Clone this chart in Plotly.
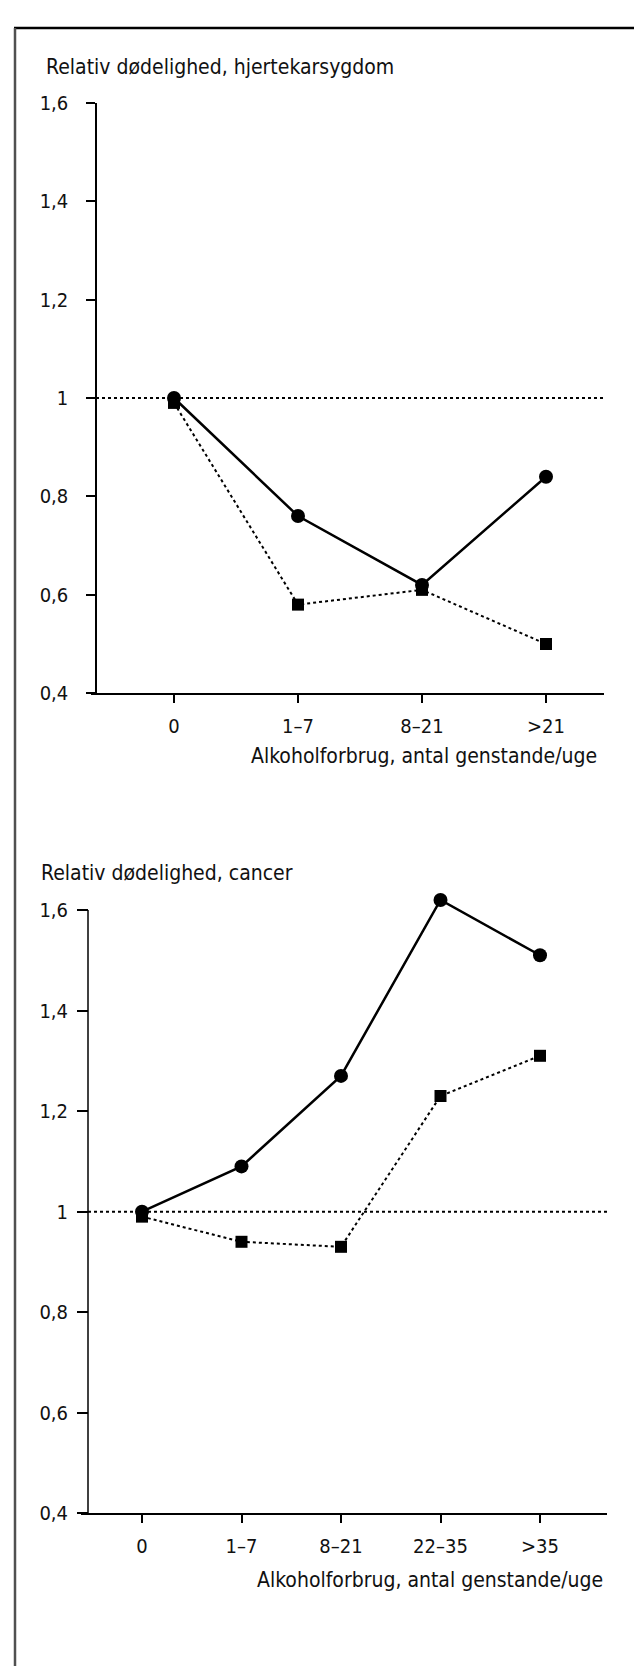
import plotly.graph_objects as go

W, H = 642, 1670

# ---------------- data ----------------
cats_cvd = ["0", "1–7", "8–21", ">21"]
cvd_circle = [1.00, 0.76, 0.62, 0.84]
cvd_square = [0.99, 0.58, 0.61, 0.50]

cats_cancer = ["0", "1–7", "8–21", "22–35", ">35"]
cancer_circle = [1.00, 1.09, 1.27, 1.62, 1.51]
cancer_square = [0.99, 0.94, 0.93, 1.23, 1.31]

y_ticks = [0.4, 0.6, 0.8, 1.0, 1.2, 1.4, 1.6]
y_ticktext = ["0,4", "0,6", "0,8", "1", "1,2", "1,4", "1,6"]
y_min, y_max = 0.4, 1.6

title_cvd = "Relativ dødelighed, hjertekarsygdom"
title_cancer = "Relativ dødelighed, cancer"
x_title = "Alkoholforbrug, antal genstande/uge"
ref_value = 1.0

FONT = "'Liberation Sans Narrow', 'DejaVu Sans Condensed', 'Roboto Condensed', 'Arial Narrow', 'Liberation Sans', sans-serif"


def px(x):
    return x / W


def py(y):
    return 1 - y / H


fig = go.Figure()


def add_series(xs, circ, sq, xa, ya):
    fig.add_trace(go.Scatter(
        x=list(range(len(xs))), y=circ, mode="lines+markers",
        line=dict(color="black", width=2.5),
        marker=dict(symbol="circle", size=14, color="black"),
        xaxis=xa, yaxis=ya, showlegend=False, cliponaxis=False))
    fig.add_trace(go.Scatter(
        x=list(range(len(xs))), y=sq, mode="lines+markers",
        line=dict(color="black", width=2, dash="dot"),
        marker=dict(symbol="square", size=12, color="black"),
        xaxis=xa, yaxis=ya, showlegend=False, cliponaxis=False))


add_series(cats_cvd, cvd_circle, cvd_square, "x", "y")
add_series(cats_cancer, cancer_circle, cancer_square, "x2", "y2")

axis_common = dict(showline=True, linecolor="black", linewidth=1.5,
                   ticks="outside", tickcolor="black", tickwidth=1.5,
                   showgrid=False, zeroline=False,
                   tickfont=dict(family=FONT, size=20, color="#111"))

# top chart geometry (pixels)
t_x0, t_x1, t_c0, t_step, t_yax = 83, 596, 166, 124, 88
t_ytop, t_ybot = 84, 683
# bottom chart geometry
b_x0, b_x1, b_c0, b_step, b_yax = 73, 599, 134, 99.5, 80
b_ytop, b_ybot = 903, 1515
# extra headroom above 1,6 in the bottom chart so the top point shows
b_ymax = 1.65
b_ytop_ext = b_ybot - (b_ybot - b_ytop) * (b_ymax - y_min) / (y_max - y_min)

fig.update_layout(
    width=W, height=H,
    margin=dict(l=0, r=0, t=0, b=0),
    paper_bgcolor="white", plot_bgcolor="white",
    font=dict(family=FONT, color="#111"),
    xaxis=dict(axis_common, domain=[px(t_x0), px(t_x1)], anchor="y",
               range=[-(t_c0 - t_x0) / t_step, (t_x1 - t_c0) / t_step],
               tickvals=list(range(len(cats_cvd))), ticktext=cats_cvd,
               ticklen=8, ticklabelstandoff=6),
    yaxis=dict(axis_common, domain=[py(t_ybot), py(t_ytop)], anchor="free",
               position=px(t_yax), range=[y_min, y_max],
               tickvals=y_ticks, ticktext=y_ticktext,
               ticklen=9, ticklabelstandoff=14),
    xaxis2=dict(axis_common, domain=[px(b_x0), px(b_x1)], anchor="y2",
                range=[-(b_c0 - b_x0) / b_step, (b_x1 - b_c0) / b_step],
                tickvals=list(range(len(cats_cancer))), ticktext=cats_cancer,
                ticklen=8, ticklabelstandoff=6),
    yaxis2=dict(axis_common, domain=[py(b_ybot), py(b_ytop_ext)], anchor="free",
                position=px(b_yax), range=[y_min, b_ymax], showline=False,
                tickvals=y_ticks, ticktext=y_ticktext,
                ticklen=11, ticklabelstandoff=5),
)

# bottom y axis line only from 0,4 to 1,6
fig.add_shape(type="line", xref="paper", yref="y2",
              x0=px(b_yax), x1=px(b_yax), y0=y_min, y1=y_max,
              line=dict(color="black", width=1.5))

# reference lines at 1
for xr, yr, xs in (("x domain", "y", (t_yax - t_x0) / (t_x1 - t_x0)),
                   ("x2 domain", "y2", (b_yax - b_x0) / (b_x1 - b_x0))):
    fig.add_shape(type="line", xref=xr, yref=yr, x0=xs, x1=1,
                  y0=ref_value, y1=ref_value,
                  line=dict(color="black", width=2, dash="3px,3px"))

# frame: top and left border
fig.add_shape(type="line", xref="paper", yref="paper",
              x0=px(6), x1=1, y0=py(8), y1=py(8),
              line=dict(color="black", width=2.5))
fig.add_shape(type="line", xref="paper", yref="paper",
              x0=px(7), x1=px(7), y0=py(8), y1=0,
              line=dict(color="#505050", width=2.5))

# titles
fig.add_annotation(text=title_cvd, xref="paper", yref="paper",
                   x=px(36), y=py(48), xanchor="left", yanchor="middle",
                   showarrow=False, font=dict(family=FONT, size=21, color="#111"))
fig.add_annotation(text=title_cancer, xref="paper", yref="paper",
                   x=px(31), y=py(865), xanchor="left", yanchor="middle",
                   showarrow=False, font=dict(family=FONT, size=21, color="#111"))
fig.add_annotation(text=x_title, xref="paper", yref="paper",
                   x=px(591), y=py(747), xanchor="right", yanchor="middle",
                   showarrow=False, font=dict(family=FONT, size=21, color="#111"))
fig.add_annotation(text=x_title, xref="paper", yref="paper",
                   x=px(597), y=py(1583), xanchor="right", yanchor="middle",
                   showarrow=False, font=dict(family=FONT, size=21, color="#111"))

fig.write_html("out.html")
